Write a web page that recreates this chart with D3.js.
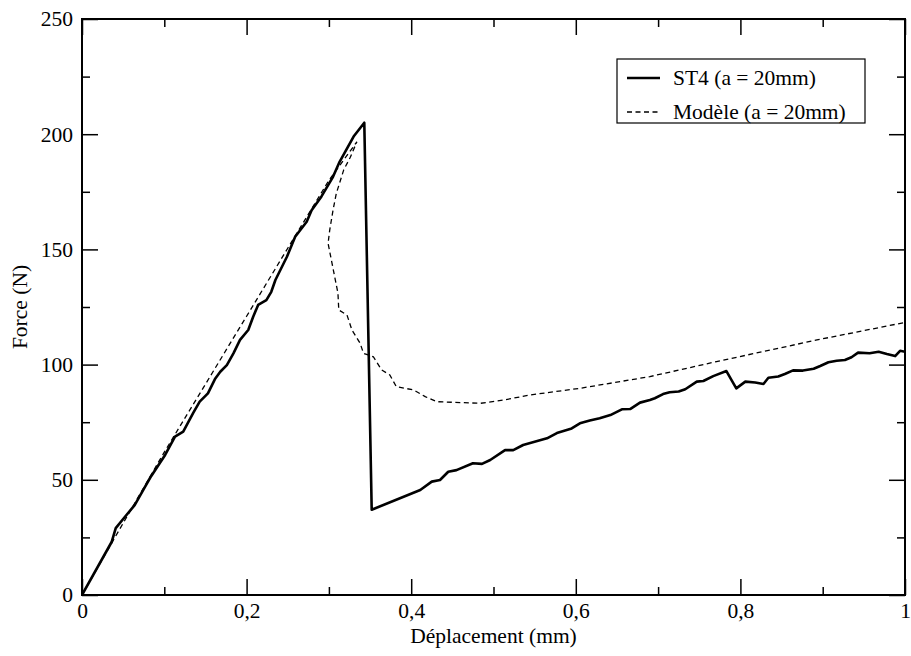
<!DOCTYPE html>
<html>
<head>
<meta charset="utf-8">
<script src="https://cdn.jsdelivr.net/npm/d3@7"></script>
<style>
html,body{margin:0;padding:0;background:#fff;}
svg{display:block;}
text{font-family:"Liberation Serif","Times New Roman",serif;fill:#000;}
</style>
</head>
<body>
<svg id="chart" width="911" height="656"></svg>
<script>
// ---- data ----
const st4X = [0,0.036,0.041,0.050,0.064,0.075,0.083,0.101,0.113,0.123,0.135,0.143,0.153,0.162,0.168,0.176,0.184,0.192,0.202,0.208,0.214,0.224,0.230,0.235,0.249,0.259,0.273,0.279,0.291,0.305,0.313,0.330,0.343,
  0.352,0.411,0.425,0.435,0.445,0.455,0.475,0.486,0.496,0.514,0.524,0.536,0.565,0.577,0.595,0.605,0.617,0.629,0.642,0.656,0.666,0.678,0.690,0.696,0.706,0.714,0.725,0.733,0.747,0.755,0.767,0.783,0.795,0.806,0.818,0.828,0.834,0.846,0.854,0.864,0.876,0.889,0.897,0.907,0.917,0.927,0.935,0.943,0.957,0.968,0.978,0.988,0.994,1.0];
const st4Y = [0,23,29,33,39,46,51,60.8,68.7,70.9,78.9,83.9,87.5,94,96.9,99.8,104.9,110.7,115,120.8,125.9,128,131.6,136.7,146.8,155.5,162,167,173,181.5,188,199,205,
  37,45.6,49.2,49.9,53.5,54.2,57.2,56.9,58.6,62.9,62.9,65.1,68,70.3,72.3,74.5,75.7,76.7,78.1,80.6,80.7,83.5,84.6,85.4,87.2,88,88.3,89.3,92.6,92.9,95,97.2,89.7,92.6,92.2,91.6,94.3,94.8,95.9,97.5,97.4,98.2,99.4,101,101.7,102,103.2,105.2,104.9,105.6,104.6,103.7,106,105.6];
const modelX = [0,0.04,0.1,0.15,0.2,0.25,0.3,0.334,0.326,0.318,0.309,0.305,0.301,0.299,0.303,0.307,0.311,0.312,0.322,0.328,0.338,0.342,0.354,0.364,0.374,0.382,0.403,0.417,0.431,0.484,0.512,0.544,0.605,0.69,0.771,0.893,1.0];
const modelY = [0,25,62,91.5,121,150.5,180,196.7,190,184.5,174.3,167,158.4,152.6,145.4,138.2,131,123.7,121.5,115,109.2,104.9,103.4,97.7,95.5,90.4,89,86.1,83.9,83.2,84.6,86.8,89.7,94.8,101.3,110.7,118.3];
const xTicks = [0,0.2,0.4,0.6,0.8,1];
const xTickLabels = ["0","0,2","0,4","0,6","0,8","1"];
const xMinor = [0.1,0.3,0.5,0.7,0.9];
const yTicks = [0,50,100,150,200,250];
const yMinor = [25,75,125,175,225];
const seriesNames = ["ST4 (a = 20mm)","Modèle (a = 20mm)"];

(function(){
// ---- layout ----
const L=82,R=905,T=19,B=595;
const svg=d3.select("#chart");
const x=d3.scaleLinear().domain([0,1]).range([L,R]);
const y=d3.scaleLinear().domain([0,250]).range([B,T]);
const FS=21.5;
const FF="'Liberation Serif','Times New Roman',serif";

svg.append("clipPath").attr("id","clip").append("rect")
  .attr("x",L).attr("y",T).attr("width",R-L).attr("height",B-T);

const line=d3.line().x(d=>x(d[0])).y(d=>y(d[1]));
const st4=st4X.map((v,i)=>[v,st4Y[i]]);
const model=modelX.map((v,i)=>[v,modelY[i]]);

const g=svg.append("g").attr("clip-path","url(#clip)");
g.append("path").datum(model).attr("d",line).attr("fill","none")
  .attr("stroke","#000").attr("stroke-width",1.3).attr("stroke-dasharray","5,3.5");
g.append("path").datum(st4).attr("d",line).attr("fill","none")
  .attr("stroke","#000").attr("stroke-width",2.6).attr("stroke-linejoin","round");

// axes (ticks inward on all four sides)
const maj=16, mnr=8;
const axB=d3.axisBottom(x).tickValues(xTicks).tickSize(-maj).tickFormat((d,i)=>xTickLabels[i]).tickPadding(8);
const axBm=d3.axisBottom(x).tickValues(xMinor).tickSize(-mnr).tickFormat("");
const axT=d3.axisTop(x).tickValues(xTicks).tickSize(-maj).tickFormat("");
const axTm=d3.axisTop(x).tickValues(xMinor).tickSize(-mnr).tickFormat("");
const axL=d3.axisLeft(y).tickValues(yTicks).tickSize(-maj).tickFormat(d3.format("d")).tickPadding(9);
const axLm=d3.axisLeft(y).tickValues(yMinor).tickSize(-mnr).tickFormat("");
const axR=d3.axisRight(y).tickValues(yTicks).tickSize(-maj).tickFormat("");
const axRm=d3.axisRight(y).tickValues(yMinor).tickSize(-mnr).tickFormat("");
[[axB,`translate(0,${B})`],[axBm,`translate(0,${B})`],[axT,`translate(0,${T})`],[axTm,`translate(0,${T})`],
 [axL,`translate(${L},0)`],[axLm,`translate(${L},0)`],[axR,`translate(${R},0)`],[axRm,`translate(${R},0)`]]
.forEach(([ax,tr])=>{
  const a=svg.append("g").attr("transform",tr).call(ax);
  a.attr("font-family",FF).attr("font-size",FS);
  a.select(".domain").remove();
  a.selectAll(".tick line").attr("stroke","#000").attr("stroke-width",1.5);
  a.selectAll("text").attr("fill","#000");
});
svg.append("rect").attr("x",L).attr("y",T).attr("width",R-L).attr("height",B-T)
  .attr("fill","none").attr("stroke","#000").attr("stroke-width",2);

// axis titles
svg.append("text").attr("x",(L+R)/2).attr("y",643).attr("text-anchor","middle")
  .attr("font-family",FF).attr("font-size",FS).text("Déplacement (mm)");
svg.append("text").attr("transform",`translate(27,${(T+B)/2}) rotate(-90)`).attr("text-anchor","middle")
  .attr("font-family",FF).attr("font-size",FS).text("Force (N)");

// legend
const lg=svg.append("g");
lg.append("rect").attr("x",617).attr("y",59).attr("width",248).attr("height",64)
  .attr("fill","#fff").attr("stroke","#000").attr("stroke-width",1.2);
const rows=[78,112];
lg.append("line").attr("x1",627).attr("x2",660).attr("y1",rows[0]).attr("y2",rows[0])
  .attr("stroke","#000").attr("stroke-width",2.6);
lg.append("line").attr("x1",627).attr("x2",660).attr("y1",rows[1]).attr("y2",rows[1])
  .attr("stroke","#000").attr("stroke-width",1.3).attr("stroke-dasharray","5,3.5");
seriesNames.forEach((n,i)=>{
  lg.append("text").attr("x",673).attr("y",rows[i]+7).attr("font-family",FF).attr("font-size",FS).text(n);
});
})();
</script>
</body>
</html>
